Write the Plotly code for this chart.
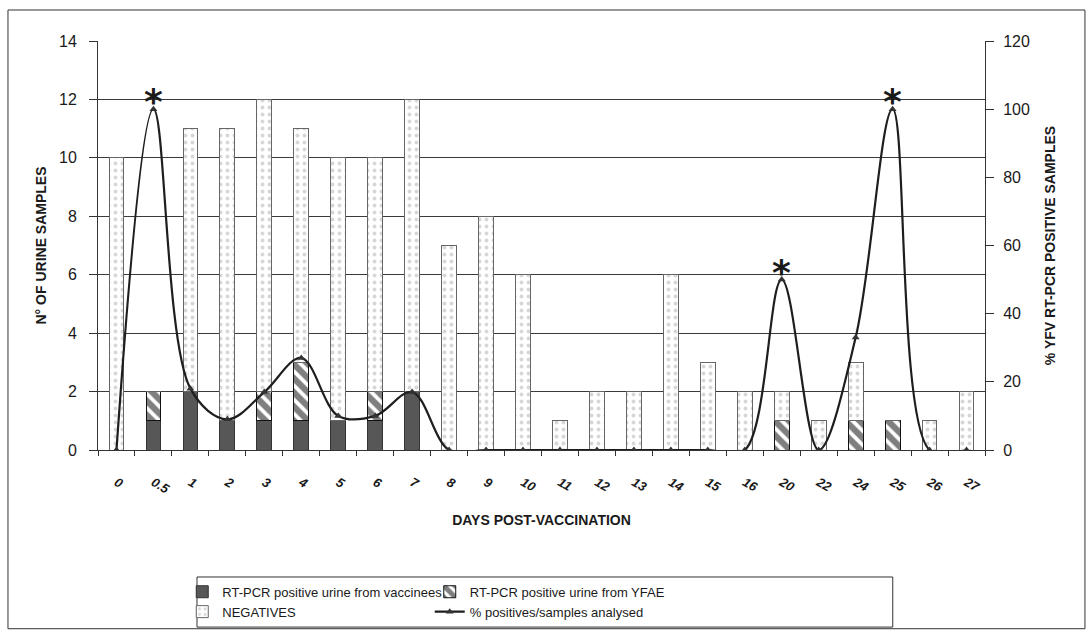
import plotly.graph_objects as go

days = ["0", "0.5", "1", "2", "3", "4", "5", "6", "7", "8", "9", "10", "11", "12",
        "13", "14", "15", "16", "20", "22", "24", "25", "26", "27"]
vaccinees = [0, 1, 2, 1, 1, 1, 1, 1, 2, 0, 0, 0, 0, 0, 0, 0, 0, 0, 0, 0, 0, 0, 0, 0]
yfae = [0, 1, 0, 0, 1, 2, 0, 1, 0, 0, 0, 0, 0, 0, 0, 0, 0, 0, 1, 0, 1, 1, 0, 0]
negatives = [10, 0, 9, 10, 10, 8, 9, 8, 10, 7, 8, 6, 1, 2, 2, 6, 3, 2, 1, 1, 2, 0, 1, 2]
pct_positive = [0, 100, 18, 9, 17, 27, 10, 10, 17, 0, 0, 0, 0, 0, 0, 0, 0, 0, 50, 0, 33, 100, 0, 0]
starred_days = ["0.5", "20", "25"]

FONT = "Liberation Sans, Arial, sans-serif"

fig = go.Figure()
fig.add_trace(go.Bar(
    x=days, y=vaccinees, name="RT-PCR positive urine from vaccinees",
    marker=dict(color="#575757", line=dict(color="#333333", width=1)),
    legend="legend",
))
fig.add_trace(go.Bar(
    x=days, y=yfae, name="RT-PCR positive urine from YFAE",
    marker=dict(color="white", line=dict(color="#111111", width=1),
                pattern=dict(shape="\\", fgcolor="#000000", bgcolor="white",
                             size=10, solidity=0.62)),
    legend="legend2",
))
fig.add_trace(go.Bar(
    x=days, y=negatives, name="NEGATIVES",
    marker=dict(color="white", line=dict(color="#666666", width=1),
                pattern=dict(shape=".", fgcolor="#b0b0b0", bgcolor="white",
                             size=7, solidity=0.25)),
    legend="legend",
))
fig.add_trace(go.Scatter(
    x=days, y=pct_positive, name="% positives/samples analysed", yaxis="y2",
    mode="lines+markers", line=dict(color="#1e1e1e", width=2.2, shape="spline", smoothing=1),
    marker=dict(symbol="triangle-up", size=7, color="#333333"),
    legend="legend2", cliponaxis=True,
))

for d in starred_days:
    i = days.index(d)
    fig.add_annotation(x=i, y=pct_positive[i], xref="x", yref="y2", text="<b>*</b>",
                       showarrow=False, yshift=-15, yanchor="bottom",
                       font=dict(size=36, color="#1a1a1a", family="DejaVu Sans"))

# legend box and outer frame
fig.add_shape(type="rect", xref="paper", yref="paper",
              x0=0.1116, x1=0.896, y0=-0.433, y1=-0.3105,
              line=dict(color="#333333", width=1), fillcolor="rgba(0,0,0,0)")
fig.add_shape(type="rect", xref="paper", yref="paper",
              x0=-0.1015, x1=1.1127, y0=-0.437, y1=1.0758,
              line=dict(color="#333333", width=1), fillcolor="rgba(0,0,0,0)")

fig.update_layout(
    width=1090, height=633,
    margin=dict(l=98, r=105, t=41, b=183, autoexpand=False),
    paper_bgcolor="white", plot_bgcolor="white",
    barmode="stack", bargap=0.6,
    font=dict(family=FONT, size=14, color="#1a1a1a"),
    xaxis=dict(
        type="category", range=[-0.5, len(days) - 0.5], automargin=False,
        tickangle=30, tickson="boundaries", ticks="outside",
        ticklen=5, tickcolor="#333", showline=True, linecolor="#333", linewidth=1,
        tickfont=dict(size=13, family="Liberation Sans, Arial", style="italic", weight="bold"),
        ticklabelstandoff=19,
        title=dict(text="<b>DAYS POST-VACCINATION</b>", font=dict(size=14), standoff=19),
        showgrid=False,
    ),
    yaxis=dict(
        range=[0, 14], dtick=2, ticks="outside", ticklen=8, tickcolor="#333",
        showline=True, linecolor="#333", linewidth=1, automargin=False,
        showgrid=True, gridcolor="#3a3a3a", gridwidth=1, zeroline=False,
        tickfont=dict(size=16), ticklabelstandoff=9,
        title=dict(text="<b>N° OF URINE SAMPLES</b>", font=dict(size=14), standoff=9),
    ),
    yaxis2=dict(
        range=[0, 120], dtick=20, overlaying="y", side="right", automargin=False,
        ticks="outside", ticklen=8, tickcolor="#333",
        showline=True, linecolor="#333", linewidth=1,
        showgrid=False, zeroline=False, tickfont=dict(size=16), ticklabelstandoff=6,
        title=dict(text="<b>% YFV RT-PCR POSITIVE SAMPLES</b>", font=dict(size=14), standoff=16),
    ),
    legend=dict(x=0.095, y=-0.31, xanchor="left", yanchor="top", orientation="v",
                traceorder="normal", font=dict(size=13), bgcolor="rgba(0,0,0,0)",
                itemwidth=30, tracegroupgap=0),
    legend2=dict(x=0.374, y=-0.31, xanchor="left", yanchor="top", orientation="v",
                 traceorder="normal", font=dict(size=13), bgcolor="rgba(0,0,0,0)",
                 itemwidth=30, tracegroupgap=0),
)

fig.write_html("out.html", config={"displayModeBar": False},
               post_script="document.body.style.margin='0px';")
